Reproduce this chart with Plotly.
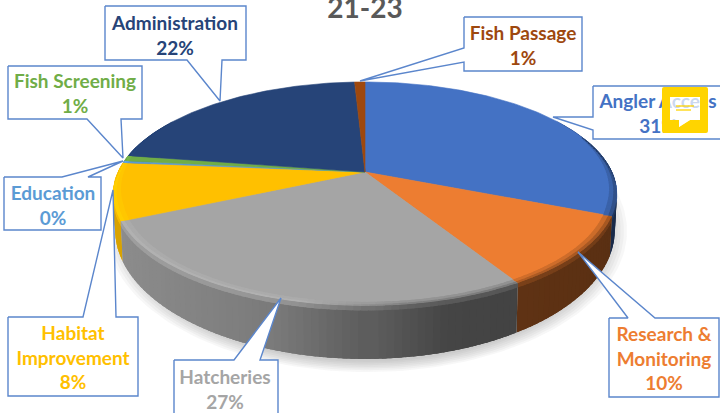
import numpy as np
import plotly.graph_objects as go

# ---- data ----
categories = ["Angler Access", "Research &<br>Monitoring", "Hatcheries", "Habitat<br>Improvement",
              "Education", "Fish Screening", "Administration", "Fish Passage"]
shares = [31.2, 10.2, 26.7, 8.3, 0.3, 0.8, 21.7, 0.8]
title_text = "21-23"

# ---- styles ----
slice_colors = ["#4472C4", "#ED7D31", "#A5A5A5", "#FFC000", "#5B9BD5", "#70AD47", "#264478", "#9E480E"]
FONT = "Lato"
BOX_LINE = "#5B86CC"

# ---- 3D pie geometry (perspective projection of a disc) ----
CX, CY, A, B, K = 365.0, 172.0, 247.0, 107.7, 0.196
TOP = (365.0, 194.0, 252.0, 112.0)
BASE = (365.0, 230.0, 250.0, 129.0)


def project(theta):
    x, y = np.sin(theta), np.cos(theta)
    d = 1 + K * y
    return CX + A * x / d, CY - B * y / d


def to_base(X, Y):
    u = (X - TOP[0]) / TOP[2]
    v = (Y - TOP[1]) / TOP[3]
    return BASE[0] + BASE[2] * u, BASE[1] + BASE[3] * v


def rgb(hexs):
    return np.array([int(hexs[i:i + 2], 16) for i in (1, 3, 5)], float)


def css(c):
    c = np.clip(c, 0, 255).round().astype(int)
    return f"rgb({c[0]},{c[1]},{c[2]})"


def poly(xs, ys, color, width=0.6):
    return go.Scatter(x=list(xs), y=list(ys), mode="lines", fill="toself", fillcolor=color,
                      line=dict(color=color, width=width), hoverinfo="skip", showlegend=False)


fig = go.Figure()

# soft shadow beneath the pie
for i in range(7):
    grow = 1 - i * 0.012
    t = np.linspace(0, 2 * np.pi, 181)
    fig.add_trace(go.Scatter(x=BASE[0] + 2 + (BASE[2] + 10) * grow * np.sin(t),
                             y=BASE[1] + 1 + (BASE[3] + 12) * grow * np.cos(t),
                             mode="lines", fill="toself", fillcolor="rgba(90,90,90,0.05)",
                             line=dict(width=0), hoverinfo="skip", showlegend=False))

edges = np.cumsum([0] + shares) / sum(shares) * 2 * np.pi
wall_x = [120, 280, 360, 440, 610]
wall_f = [0.85, 0.74, 0.58, 0.42, 0.38]
strips = []
for i, col in enumerate(slice_colors):
    a0, a1 = edges[i], edges[i + 1]
    n = max(2, int(np.ceil((a1 - a0) / np.radians(1.5))))
    grid = np.linspace(a0, a1, n + 1)
    for t0, t1 in zip(grid[:-1], grid[1:]):
        if np.cos((t0 + t1) / 2) < 0.5:
            strips.append((t0, t1, col, a0, a1))
strips.sort(key=lambda s: -abs((s[0] + s[1]) / 2 - np.pi))

# side walls: each strip overlaps its neighbours so no seams show
pad = np.radians(1.2)
for t0, t1, col, a0, a1 in strips:
    f = np.interp(project((t0 + t1) / 2)[0], wall_x, wall_f)
    t = np.linspace(max(a0, t0 - pad), min(a1, t1 + pad), 4)
    xs, ys = project(t)
    bx, by = to_base(xs, ys)
    fig.add_trace(poly(np.r_[xs, bx[::-1], xs[0]], np.r_[ys, by[::-1], ys[0]], css(rgb(col) * f), width=0))

# top faces
for i, col in enumerate(slice_colors):
    t = np.linspace(edges[i], edges[i + 1], max(3, int((edges[i + 1] - edges[i]) * 60)))
    xs, ys = project(t)
    fig.add_trace(poly(np.r_[CX, xs, CX], np.r_[CY, ys, CY], col))


def inset(x, y, k):
    return TOP[0] + (x - TOP[0]) * k, TOP[1] + (y - TOP[1]) * k


# bevel round the front rim
for t0, t1, col, a0, a1 in strips:
    t_a, t_b = max(a0, t0 - pad / 2), min(a1, t1 + pad / 2)
    x0, y0 = project(t_a)
    x1, y1 = project(t_b)
    mid = (t0 + t1) / 2
    s = np.clip((0.5 - np.cos(mid)) / 0.8, 0, 1)
    xm = project(mid)[0]
    base_c = rgb(col)
    rim_c = base_c * np.interp(xm, [120, 300, 400, 610], [1.1, 1.1, 0.72, 0.6])
    wall_c = base_c * np.interp(xm, wall_x, wall_f)
    k1, k2 = 1 - 0.036 * s, 1 - 0.016 * s
    ax0, ay0 = inset(x0, y0, k1)
    ax1, ay1 = inset(x1, y1, k1)
    bx0, by0 = inset(x0, y0, k2)
    bx1, by1 = inset(x1, y1, k2)
    fig.add_trace(poly([ax0, ax1, bx1, bx0, ax0], [ay0, ay1, by1, by0, ay0], css(base_c * 0.65 + rim_c * 0.35), width=0))
    fig.add_trace(poly([bx0, bx1, x1, x0, bx0], [by0, by1, y1, y0, by0], css(base_c * 0.25 + rim_c * 0.75), width=0))
    d = 4.5 * s
    fig.add_trace(poly([x0, x1, x1, x0, x0], [y0, y1, y1 + d, y0 + d, y0], css(rim_c * 0.45 + wall_c * 0.55), width=0))

# callout outlines: box corners and pointer, in screen pixels
callouts = [
    [(105, 6), (246, 6), (246, 60), (222, 60), (220, 101), (187, 60), (105, 60)],
    [(8, 66), (142, 66), (142, 119), (121, 119), (123, 158), (87, 119), (8, 119)],
    [(4, 177), (62, 177), (123, 161), (88, 177), (101, 177), (101, 230), (4, 230)],
    [(8, 317), (83, 317), (113, 190), (116, 317), (138, 317), (138, 396), (8, 396)],
    [(174, 360), (234, 360), (281, 298), (260, 360), (278, 360), (278, 420), (174, 420)],
    [(609, 318), (628, 318), (578, 252), (655, 318), (719, 318), (719, 397), (609, 397)],
    [(593, 86), (730, 86), (730, 139), (593, 139), (593, 130), (553, 117), (593, 117)],
    [(464, 17), (582, 17), (582, 71), (464, 71), (464, 62), (360, 81), (464, 48)],
]
for c in callouts:
    c = c + [c[0]]
    fig.add_trace(go.Scatter(x=[p[0] for p in c], y=[p[1] for p in c], mode="lines", fill="toself",
                             fillcolor="white", line=dict(color=BOX_LINE, width=1.4),
                             hoverinfo="skip", showlegend=False))

# labels
label_pos = [(658, 116), (664, 361), (225, 391.5), (73, 360), (53, 207.5), (75, 96), (175, 37.5), (523, 47.5)]
label_size = 19
for name, v, col, pos in zip(categories, shares, slice_colors, label_pos):
    txt = f"<b>{name}<br>{round(v / sum(shares) * 100)}%</b>"
    fig.add_trace(go.Scatter(x=[pos[0]], y=[pos[1]], mode="text", text=[txt], textposition="middle center",
                             textfont=dict(family=FONT, size=label_size, color=col),
                             hoverinfo="skip", showlegend=False))

# title
fig.add_trace(go.Scatter(x=[365], y=[11], mode="text", text=[f"<b>{title_text}</b>"], textposition="middle center",
                         textfont=dict(family=FONT, size=28, color="#595959"),
                         hoverinfo="skip", showlegend=False))

# yellow comment badge lying over the picture (bubble cut out of the badge)
Y = "#FFD400"
shapes = [
    dict(type="path", layer="above", fillcolor=Y, line=dict(width=0),
         path="M 664 87 L 706 87 Q 708 87 708 89 L 708 131 Q 708 133 706 133 L 664 133 Q 662 133 662 131 L 662 89 Q 662 87 664 87 Z "
              "M 670 97 L 670 120 L 679 120 L 679 127 L 690 120 L 700 120 L 700 97 Z"),
    dict(type="path", layer="above", fillcolor="rgba(255,255,255,0.72)", line=dict(width=0),
         path="M 670 97 L 700 97 L 700 120 L 690 120 L 679 127 L 679 120 L 670 120 Z"),
    dict(type="line", layer="above", x0=676, x1=694, y0=106, y1=106, line=dict(color=Y, width=1.3)),
    dict(type="line", layer="above", x0=676, x1=691, y0=110, y1=110, line=dict(color=Y, width=1.3)),
]

fig.update_layout(
    width=720, height=413, margin=dict(l=0, r=0, t=0, b=0),
    paper_bgcolor="white", plot_bgcolor="white", showlegend=False, shapes=shapes,
    xaxis=dict(range=[0, 720], visible=False, fixedrange=True),
    yaxis=dict(range=[413, 0], visible=False, fixedrange=True),
)
fig.write_html("out.html", config={"displayModeBar": False},
               post_script="document.body.style.margin='0';document.body.style.overflow='hidden';")
